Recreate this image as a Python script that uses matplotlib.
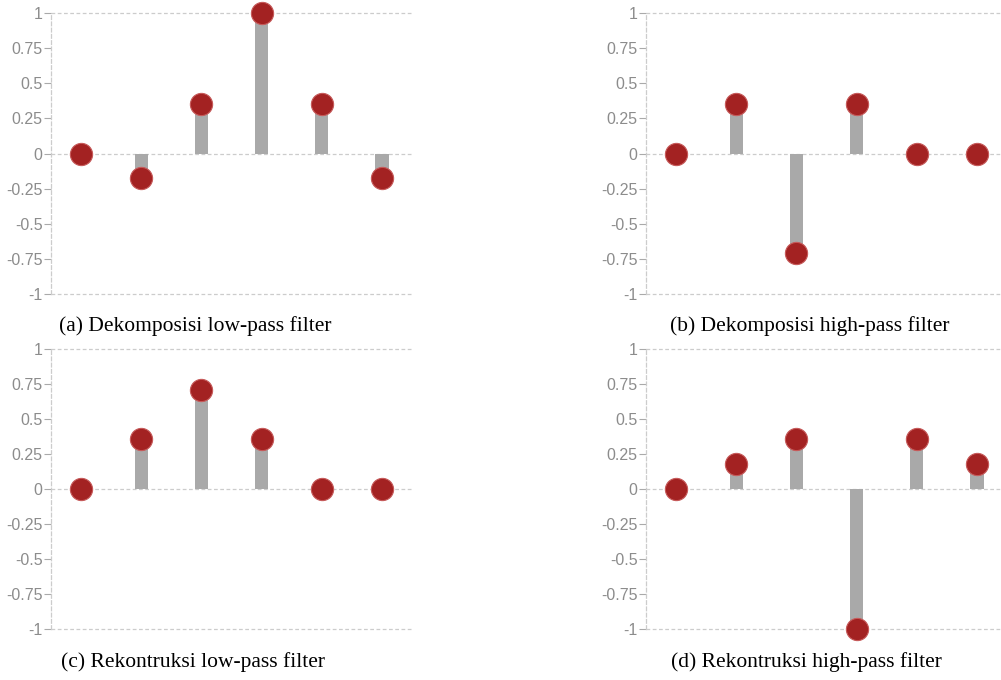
import numpy as np
import matplotlib
matplotlib.use("Agg")
import matplotlib.pyplot as plt

# filter coefficients (bior2.2)
idx = [0, 1, 2, 3, 4, 5]
dec_lo = [0.0, -0.177, 0.354, 1.0, 0.354, -0.177]
dec_hi = [0.0, 0.354, -0.707, 0.354, 0.0, 0.0]
rec_lo = [0.0, 0.354, 0.707, 0.354, 0.0, 0.0]
rec_hi = [0.0, 0.177, 0.354, -1.0, 0.354, 0.177]

captions = ["(a) Dekomposisi low-pass filter", "(b) Dekomposisi high-pass filter",
            "(c) Rekontruksi low-pass filter", "(d) Rekontruksi high-pass filter"]
yticks = [-1, -0.75, -0.5, -0.25, 0, 0.25, 0.5, 0.75, 1]
ytick_labels = ["-1", "-0.75", "-0.5", "-0.25", "0", "0.25", "0.5", "0.75", "1"]

W, H = 1001, 680
fig = plt.figure(figsize=(W / 100, H / 100), dpi=100)

# pixel boxes: left, top, right, bottom
boxes = [(51, 13, 412, 294), (646, 13, 1007, 294),
         (51, 349, 412, 629), (646, 349, 1007, 629)]
cap_pos = [(195, 326), (810, 326), (193, 662), (806, 662)]
series = [dec_lo, dec_hi, rec_lo, rec_hi]

for (l, t, r, b), vals, cap, (cx, cy) in zip(boxes, series, captions, cap_pos):
    ax = fig.add_axes([l / W, (H - b) / H, (r - l) / W, (b - t) / H])
    ax.bar(idx, vals, width=0.22, color="#a9a9a9", zorder=2)
    ax.plot(idx, vals, "o", markersize=16, color="#a32222",
            markeredgecolor="#c65a5a", markeredgewidth=0.8, zorder=3, clip_on=False)
    for yv in (-1, 0, 1):
        ax.axhline(yv, color="#cccccc", lw=0.9, ls=(0, (3, 2)), zorder=1, clip_on=False)
    ax.set_xlim(-0.5, 5.5)
    ax.set_ylim(-1, 1)
    for s in ["top", "right", "bottom"]:
        ax.spines[s].set_visible(False)
    ax.spines["left"].set_color("#cccccc")
    ax.spines["left"].set_linestyle((0, (3, 2)))
    ax.spines["left"].set_linewidth(0.9)
    ax.set_xticks([])
    ax.set_yticks(yticks)
    ax.set_yticklabels(ytick_labels, fontfamily="Liberation Sans", fontsize=11.5, color="#8c8c8c")
    ax.tick_params(axis="y", length=5, width=0.8, color="#aaaaaa", pad=1)
    fig.text(cx / W, 1 - cy / H, cap, ha="center", va="center",
             fontfamily="Liberation Serif", fontsize=15.5)

fig.savefig("out.png", dpi=100)
